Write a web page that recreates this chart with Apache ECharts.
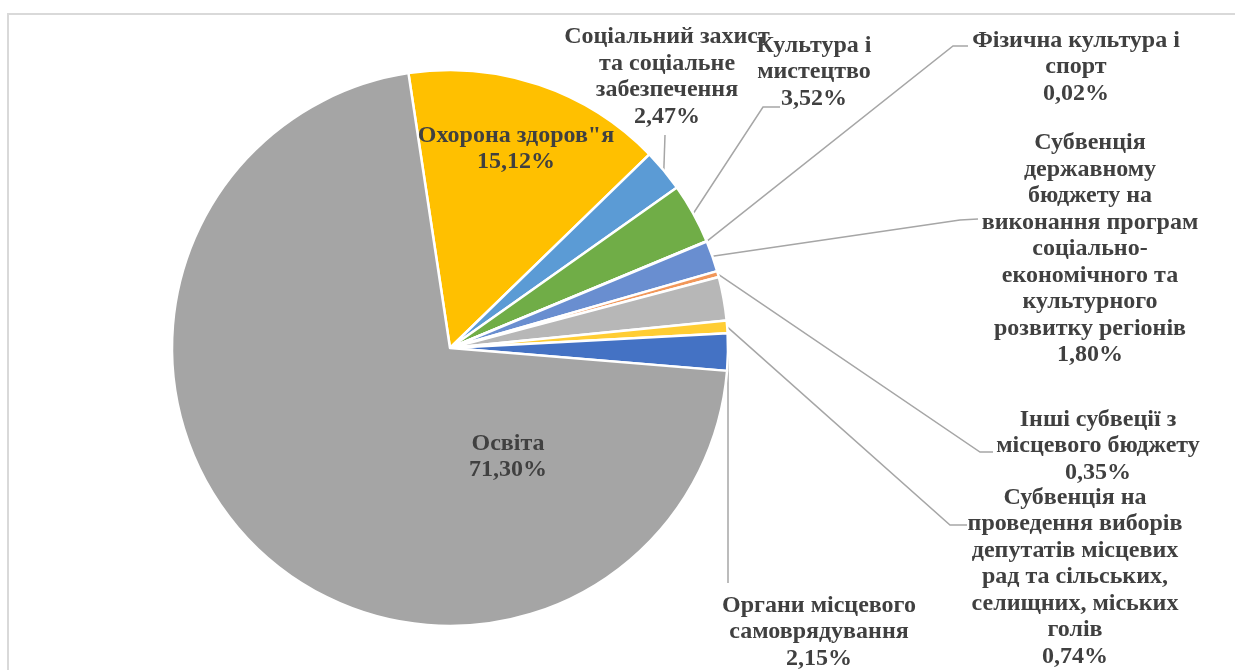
<!DOCTYPE html>
<html>
<head>
<meta charset="utf-8">
<script src="https://cdn.jsdelivr.net/npm/echarts@6/dist/echarts.min.js"></script>
<style>
  html, body { margin: 0; padding: 0; background: #fff; }
  #chart { width: 1235px; height: 670px; }
</style>
</head>
<body>
<div id="chart"></div>
<script>
// категорії по годинниковій стрілці
var categories = [
    'Охорона здоров"я',
    'Соціальний захист\nта соціальне\nзабезпечення',
    'Культура і\nмистецтво',
    'Фізична культура і\nспорт',
    'Субвенція\nдержавному\nбюджету на\nвиконання програм\nсоціально-\nекономічного та\nкультурного\nрозвитку регіонів',
    'Інші субвеції з\nмісцевого бюджету',
    '',
    'Субвенція на\nпроведення виборів\nдепутатів місцевих\nрад та сільських,\nселищних, міських\nголів',
    'Органи місцевого\nсамоврядування',
    'Освіта'
];
var values = [15.12, 2.47, 3.52, 0.02, 1.80, 0.35, 2.53, 0.74, 2.15, 71.30];
var colors = ['#FFC000', '#5B9BD5', '#70AD47', '#264478', '#698ED0', '#F1975A', '#B7B7B7', '#FFCD33', '#4472C4', '#A5A5A5'];

// положення підписів: [x, y] центру тексту, далі точки лінії-виноски (злам, кінець)
var labelPos = [
    [516, 149, null],
    [667, 77, [[665, 135], [665, 135]]],
    [814, 72, [[763, 107], [780, 107]]],
    [1076, 67, [[953, 46], [968, 46]]],
    [1090, 249, [[960, 220], [978, 219]]],
    [1098, 446, [[980, 452], [993, 452]]],
    null,
    [1075, 577, [[950, 525], [967, 525]]],
    [819, 632, [[728, 583], [728, 583]]],
    [508, 457, null]
];

var myChart = echarts.init(document.getElementById('chart'));

var pieData = categories.map(function (name, i) {
    var item = {
        name: name,
        value: values[i],
        itemStyle: { color: colors[i] }
    };
    if (labelPos[i] === null) {
        item.label = { show: false };
        item.labelLine = { show: false };
    } else if (labelPos[i][2] === null) {
        item.label = { position: 'inside' };
        item.labelLine = { show: false };
    }
    return item;
});

var option = {
    animation: false,
    backgroundColor: '#fff',
    graphic: [{
        type: 'rect',
        shape: { x: 8, y: 14, width: 1300, height: 720 },
        style: { fill: 'none', stroke: '#D9D9D9', lineWidth: 2 },
        silent: true
    }],
    series: [{
        type: 'pie',
        center: [450, 348],
        radius: 278,
        startAngle: 98.6,
        clockwise: true,
        avoidLabelOverlap: false,
        data: pieData,
        itemStyle: {
            borderColor: '#fff',
            borderWidth: 2.5
        },
        label: {
            show: true,
            position: 'outside',
            formatter: function (p) {
                return p.name + '\n' + p.value.toFixed(2).replace('.', ',') + '%';
            },
            fontFamily: '"Liberation Serif", "Times New Roman", serif',
            fontWeight: 'bold',
            fontSize: 24,
            lineHeight: 26.5,
            color: '#404040',
            align: 'center'
        },
        labelLine: {
            show: true,
            length: 20,
            length2: 20,
            smooth: false,
            lineStyle: { color: '#A6A6A6', width: 1.5 }
        },
        labelLayout: function (params) {
            var pos = labelPos[params.dataIndex];
            if (!pos) return {};
            var res = {
                x: pos[0],
                y: pos[1],
                align: 'center',
                verticalAlign: 'middle'
            };
            if (pos[2] && params.labelLinePoints) {
                var start = params.labelLinePoints[0];
                res.labelLinePoints = [start, pos[2][0], pos[2][1]];
            }
            return res;
        }
    }]
};

myChart.setOption(option);
</script>
</body>
</html>
